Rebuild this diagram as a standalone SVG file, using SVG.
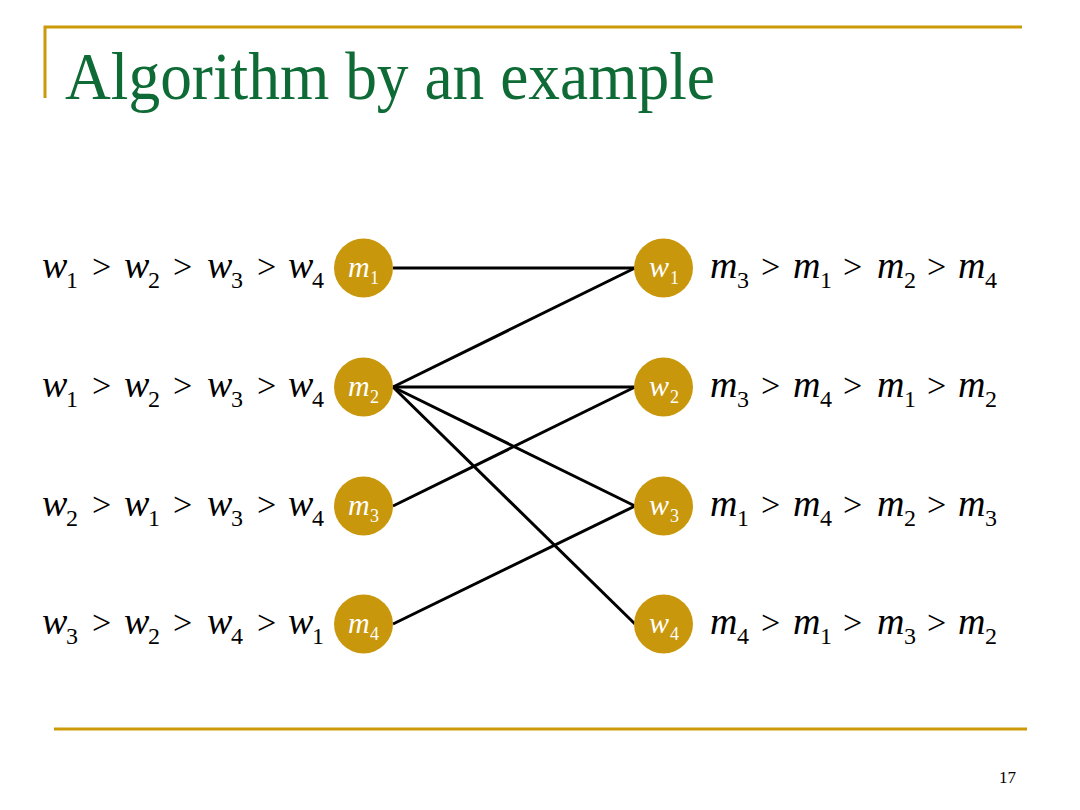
<svg xmlns="http://www.w3.org/2000/svg" width="1080" height="810" viewBox="0 0 1080 810">
<style>
.rule{stroke:#CC9A06;stroke-width:3;fill:none}
.title{font-family:"Liberation Serif",serif;font-size:68px;fill:#0E6B35}
.node circle{fill:#C9970C}
.v{font-family:"Liberation Serif",serif;font-style:italic;font-size:38px;fill:#000}
.s{font-family:"Liberation Serif",serif;font-size:24px;fill:#000}
.g{font-family:"Liberation Serif",serif;font-size:34px;fill:#000}
.nv{font-family:"Liberation Serif",serif;font-style:italic;font-size:30px;fill:#fff}
.ns{font-family:"Liberation Serif",serif;font-size:18px;fill:#fff}
.edges line{stroke:#000;stroke-width:3}
.pg{font-family:"Liberation Serif",serif;font-size:17px;fill:#000}
</style>
<rect width="1080" height="810" fill="#fff"/>
<polyline class="rule" points="45,98 45,27 1022,27"/>
<line class="rule" x1="54" y1="729" x2="1027" y2="729"/>
<text class="title" x="65" y="99" textLength="650" lengthAdjust="spacingAndGlyphs">Algorithm by an example</text>
<text class="pg" x="999" y="783">17</text>

<g class="edges">
<line x1="393" y1="268" x2="635" y2="268"/>
<line x1="393" y1="387" x2="635" y2="268"/>
<line x1="393" y1="387" x2="635" y2="387"/>
<line x1="393" y1="387" x2="635" y2="506"/>
<line x1="393" y1="387" x2="635" y2="624"/>
<line x1="393" y1="506" x2="635" y2="387"/>
<line x1="393" y1="624" x2="635" y2="506"/>
</g>

<g id="m1" class="node"><circle cx="363.5" cy="268" r="29.5"/><text class="nv" x="348" y="277">m</text><text class="ns" x="370" y="284">1</text></g>
<g id="m2" class="node"><circle cx="363.5" cy="387" r="29.5"/><text class="nv" x="348" y="396">m</text><text class="ns" x="370" y="403">2</text></g>
<g id="m3" class="node"><circle cx="363.5" cy="506" r="29.5"/><text class="nv" x="348" y="515">m</text><text class="ns" x="370" y="522">3</text></g>
<g id="m4" class="node"><circle cx="363.5" cy="624" r="29.5"/><text class="nv" x="348" y="633">m</text><text class="ns" x="370" y="640">4</text></g>
<g id="w1" class="node"><circle cx="663.5" cy="268" r="29.5"/><text class="nv" x="649" y="277">w</text><text class="ns" x="670" y="284">1</text></g>
<g id="w2" class="node"><circle cx="663.5" cy="387" r="29.5"/><text class="nv" x="649" y="396">w</text><text class="ns" x="670" y="403">2</text></g>
<g id="w3" class="node"><circle cx="663.5" cy="506" r="29.5"/><text class="nv" x="649" y="515">w</text><text class="ns" x="670" y="522">3</text></g>
<g id="w4" class="node"><circle cx="663.5" cy="624" r="29.5"/><text class="nv" x="649" y="633">w</text><text class="ns" x="670" y="640">4</text></g>

<g id="prefs-m1">
<text class="v" x="42" y="278">w</text><text class="s" x="66" y="288">1</text><text class="g" x="92" y="278">&gt;</text>
<text class="v" x="124" y="278">w</text><text class="s" x="148" y="288">2</text><text class="g" x="173" y="278">&gt;</text>
<text class="v" x="207" y="278">w</text><text class="s" x="231" y="288">3</text><text class="g" x="257" y="278">&gt;</text>
<text class="v" x="288" y="278">w</text><text class="s" x="312" y="288">4</text>
</g>
<g id="prefs-m2">
<text class="v" x="42" y="397">w</text><text class="s" x="66" y="407">1</text><text class="g" x="92" y="397">&gt;</text>
<text class="v" x="124" y="397">w</text><text class="s" x="148" y="407">2</text><text class="g" x="173" y="397">&gt;</text>
<text class="v" x="207" y="397">w</text><text class="s" x="231" y="407">3</text><text class="g" x="257" y="397">&gt;</text>
<text class="v" x="288" y="397">w</text><text class="s" x="312" y="407">4</text>
</g>
<g id="prefs-m3">
<text class="v" x="42" y="516">w</text><text class="s" x="66" y="526">2</text><text class="g" x="92" y="516">&gt;</text>
<text class="v" x="124" y="516">w</text><text class="s" x="148" y="526">1</text><text class="g" x="173" y="516">&gt;</text>
<text class="v" x="207" y="516">w</text><text class="s" x="231" y="526">3</text><text class="g" x="257" y="516">&gt;</text>
<text class="v" x="288" y="516">w</text><text class="s" x="312" y="526">4</text>
</g>
<g id="prefs-m4">
<text class="v" x="42" y="634">w</text><text class="s" x="66" y="644">3</text><text class="g" x="92" y="634">&gt;</text>
<text class="v" x="124" y="634">w</text><text class="s" x="148" y="644">2</text><text class="g" x="173" y="634">&gt;</text>
<text class="v" x="207" y="634">w</text><text class="s" x="231" y="644">4</text><text class="g" x="257" y="634">&gt;</text>
<text class="v" x="288" y="634">w</text><text class="s" x="312" y="644">1</text>
</g>

<g id="prefs-w1">
<text class="v" x="710" y="278">m</text><text class="s" x="737" y="288">3</text><text class="g" x="761" y="278">&gt;</text>
<text class="v" x="793" y="278">m</text><text class="s" x="820" y="288">1</text><text class="g" x="843" y="278">&gt;</text>
<text class="v" x="877" y="278">m</text><text class="s" x="904" y="288">2</text><text class="g" x="927" y="278">&gt;</text>
<text class="v" x="958" y="278">m</text><text class="s" x="985" y="288">4</text>
</g>
<g id="prefs-w2">
<text class="v" x="710" y="397">m</text><text class="s" x="737" y="407">3</text><text class="g" x="761" y="397">&gt;</text>
<text class="v" x="793" y="397">m</text><text class="s" x="820" y="407">4</text><text class="g" x="843" y="397">&gt;</text>
<text class="v" x="877" y="397">m</text><text class="s" x="904" y="407">1</text><text class="g" x="927" y="397">&gt;</text>
<text class="v" x="958" y="397">m</text><text class="s" x="985" y="407">2</text>
</g>
<g id="prefs-w3">
<text class="v" x="710" y="516">m</text><text class="s" x="737" y="526">1</text><text class="g" x="761" y="516">&gt;</text>
<text class="v" x="793" y="516">m</text><text class="s" x="820" y="526">4</text><text class="g" x="843" y="516">&gt;</text>
<text class="v" x="877" y="516">m</text><text class="s" x="904" y="526">2</text><text class="g" x="927" y="516">&gt;</text>
<text class="v" x="958" y="516">m</text><text class="s" x="985" y="526">3</text>
</g>
<g id="prefs-w4">
<text class="v" x="710" y="634">m</text><text class="s" x="737" y="644">4</text><text class="g" x="761" y="634">&gt;</text>
<text class="v" x="793" y="634">m</text><text class="s" x="820" y="644">1</text><text class="g" x="843" y="634">&gt;</text>
<text class="v" x="877" y="634">m</text><text class="s" x="904" y="644">3</text><text class="g" x="927" y="634">&gt;</text>
<text class="v" x="958" y="634">m</text><text class="s" x="985" y="644">2</text>
</g>
</svg>
